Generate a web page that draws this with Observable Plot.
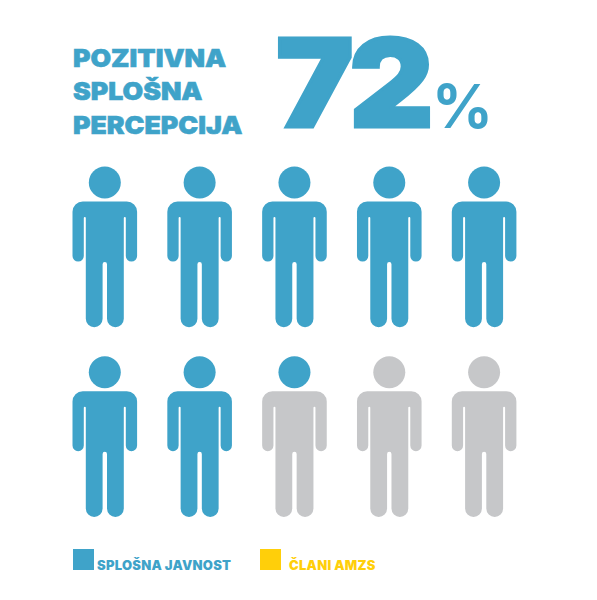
<!DOCTYPE html>
<html>
<head>
<meta charset="utf-8">
<script src="https://cdn.jsdelivr.net/npm/d3@7"></script>
<script src="https://cdn.jsdelivr.net/npm/@observablehq/plot@0.6"></script>
<style>
  html, body { margin: 0; padding: 0; background: #fff; }
  #page { position: relative; width: 597px; height: 600px; overflow: hidden; font-family: Inter, Lato, sans-serif; }
  #page div { position: absolute; white-space: nowrap; }
  #chart { left: 0; top: 150px; }
  #chart svg { display: block; background: transparent; }
  .title { left: 73px; font-size: 25px; font-weight: 900; line-height: 25px; color: #3fa3c9; transform: scaleX(1.065); transform-origin: left; -webkit-text-stroke: 0.6px #3fa3c9; }
  .big { left: 276px; top: 21px; font-size: 122px; line-height: 124px; font-weight: 900; letter-spacing: -4px; color: #3fa3c9; transform: scaleX(1.07); transform-origin: left; -webkit-text-stroke: 3px #3fa3c9; }
  .pct { left: 432px; top: 71px; font-size: 60px; line-height: 70px; font-weight: 700; color: #3fa3c9; }
  .swatch { top: 549px; width: 21px; height: 21px; }
  .legend { top: 558px; font-size: 13px; line-height: 15px; font-weight: 900; letter-spacing: 0.25px; }
</style>
</head>
<body>
<div id="page"></div>
<script>
const titleLines = ["POZITIVNA", "SPLOŠNA", "PERCEPCIJA"];
const shareLabel = "72";
const shareUnit = "%";
const figureColumn = [0, 1, 2, 3, 4, 0, 1, 2, 3, 4];
const figureRow = [0, 0, 0, 0, 0, 1, 1, 1, 1, 1];
const headGroup = ["pozitivno", "pozitivno", "pozitivno", "pozitivno", "pozitivno", "pozitivno", "pozitivno", "pozitivno", "ostalo", "ostalo"];
const bodyGroup = ["pozitivno", "pozitivno", "pozitivno", "pozitivno", "pozitivno", "pozitivno", "pozitivno", "ostalo", "ostalo", "ostalo"];
const legendLabels = ["SPLOŠNA JAVNOST", "ČLANI AMZS"];
const legendColors = ["#3fa3c9", "#ffcf0a"];

const bodySymbol = {
  draw(c, size) {
    const s = Math.sqrt(size / Math.PI);
    const P = (f, ...a) => c[f](...a.map(v => v * s));
    const arc = (x, y, r, a0, a1, ccw) => c.arc(x * s, y * s, r * s, a0, a1, ccw);
    const pi = Math.PI;
    P("moveTo", -22, 19);
    P("lineTo", 22, 19);
    arc(22, 29.3, 10.3, -pi / 2, 0, false);
    P("lineTo", 32.3, 73.4);
    arc(26.65, 73.4, 5.65, 0, pi, false);
    P("lineTo", 21, 35.5);
    arc(20, 35.5, 1, 0, pi, true);
    P("lineTo", 19, 136.3);
    arc(10.6, 136.3, 8.4, 0, pi, false);
    P("lineTo", 2.2, 81.8);
    arc(0, 81.8, 2.2, 0, pi, true);
    P("lineTo", -2.2, 136.3);
    arc(-10.6, 136.3, 8.4, 0, pi, false);
    P("lineTo", -19, 35.5);
    arc(-20, 35.5, 1, 0, pi, true);
    P("lineTo", -21, 73.4);
    arc(-26.65, 73.4, 5.65, 0, pi, false);
    P("lineTo", -32.3, 29.3);
    arc(-22, 29.3, 10.3, pi, 1.5 * pi, false);
    c.closePath();
  }
};

const figures = figureColumn.map((col, i) => ({col, row: figureRow[i], head: headGroup[i], body: bodyGroup[i]}));

const chart = Plot.plot({
  width: 597,
  height: 385,
  margin: 0,
  x: {domain: [0, 4], range: [104.3, 483.6], axis: null},
  y: {domain: [0, 1], range: [32, 221.7], axis: null},
  color: {domain: ["pozitivno", "ostalo"], range: ["#3fa3c9", "#c6c7c9"]},
  marks: [
    Plot.dot(figures, {x: "col", y: "row", fill: "body", symbol: bodySymbol, r: 1}),
    Plot.dot(figures, {x: "col", y: "row", fill: "head", r: 16})
  ]
});

const page = document.getElementById("page");
const add = (cls, text, style) => {
  const el = document.createElement("div");
  el.className = cls;
  el.textContent = text;
  Object.assign(el.style, style || {});
  page.appendChild(el);
  return el;
};
const titleTops = [46, 79, 113];
titleLines.forEach((t, i) => add("title", t, {top: titleTops[i] + "px"}));
add("big", shareLabel);
add("pct", shareUnit);
const holder = add("", "", {});
holder.id = "chart";
holder.appendChild(chart);
const swatchLefts = [73, 260];
const labelLefts = [97, 289];
legendLabels.forEach((t, i) => {
  add("swatch", "", {left: swatchLefts[i] + "px", background: legendColors[i]});
  add("legend", t, {left: labelLefts[i] + "px", color: legendColors[i]});
});
</script>
</body>
</html>
